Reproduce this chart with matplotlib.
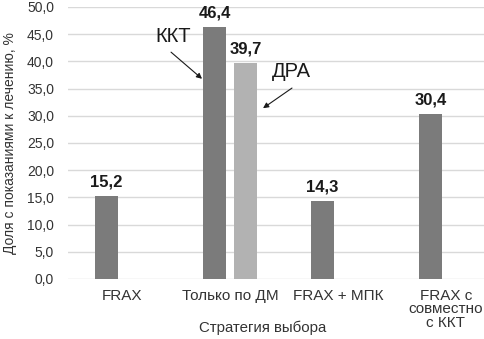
import numpy as np
import matplotlib
matplotlib.use("Agg")
import matplotlib.pyplot as plt

plt.rcParams['font.family'] = ['Liberation Sans', 'DejaVu Sans']

# данные
categories = ["FRAX", "Только по ДМ", "FRAX + МПК", "FRAX с\nсовместно\nс ККТ"]
kkt_values = [15.2, 46.4, 14.3, 30.4]
dra_values = [np.nan, 39.7, np.nan, np.nan]
y_ticks = np.arange(0, 50.1, 5)

W, H = 485, 339
fig = plt.figure(figsize=(W / 100, H / 100), dpi=100)
# область графика обрезана справа, как в оригинале
ax = fig.add_axes([68 / W, 1 - 279 / H, 432 / W, 272 / H])

x = np.arange(len(categories))
off = 0.143
bw = 0.22
ax.bar(x - off, kkt_values, width=bw, color="#7b7b7b", zorder=3)
ax.bar(x + off, dra_values, width=bw, color="#b2b2b2", zorder=3)

for xs, vals in ((x - off, kkt_values), (x + off, dra_values)):
    for xi, v in zip(xs, vals):
        if not np.isnan(v):
            ax.text(xi, v + 1.2, f"{v:.1f}".replace(".", ","), ha="center", va="bottom",
                    fontsize=12, fontweight="bold", color="#1a1a1a")

ax.set_xlim(-0.5, 3.5)
ax.set_ylim(0, 50)
ax.set_yticks(y_ticks)
ax.set_yticklabels([f"{t:.1f}".replace(".", ",") for t in y_ticks], fontsize=10, color="#333333")
ax.set_xticks(x)
ax.set_xticklabels(categories, fontsize=11, color="#333333", linespacing=0.95)
ax.tick_params(length=0, pad=7)
ax.tick_params(axis="y", pad=10)
ax.grid(axis="y", color="#d9d9d9", linewidth=1, zorder=0)
for s in ax.spines.values():
    s.set_visible(False)

# подписи-стрелки
ax.text(0.475, 44.6, "ККТ", fontsize=14.5, color="#1a1a1a", ha="center", va="center")
ax.annotate("", xy=(0.741, 36.8), xytext=(0.454, 41.7),
            arrowprops=dict(arrowstyle="-|>", color="#1a1a1a", lw=0.8,
                            shrinkA=0, shrinkB=0, mutation_scale=8))
ax.text(1.57, 38.1, "ДРА", fontsize=14.5, color="#1a1a1a", ha="center", va="center")
ax.annotate("", xy=(1.306, 31.4), xytext=(1.574, 35.1),
            arrowprops=dict(arrowstyle="-|>", color="#1a1a1a", lw=0.8,
                            shrinkA=0, shrinkB=0, mutation_scale=8))

fig.text(10 / W, 1 - 143 / H, "Доля с показаниями к лечению, %", rotation=90,
         ha="center", va="center", fontsize=10, color="#333333")
fig.text(263 / W, 1 - 328 / H, "Стратегия выбора", ha="center", va="center",
         fontsize=10.8, color="#333333")

fig.savefig("out.png", dpi=100)
